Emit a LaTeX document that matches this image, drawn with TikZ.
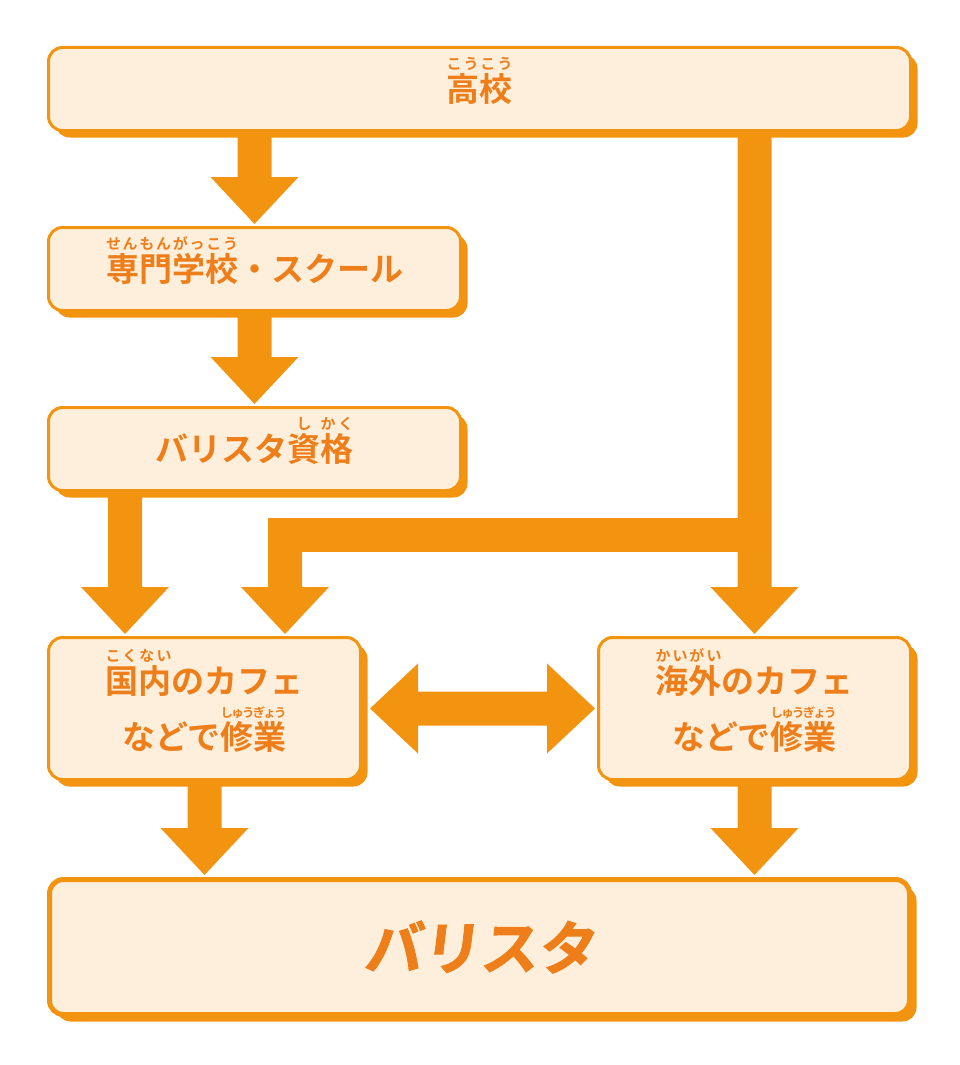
\documentclass[tikz,border=0pt]{standalone}
\usepackage{fontspec}
\usetikzlibrary{calc,shadows}
\newfontfamily\jpb{Noto Sans CJK JP Bold}
\newfontfamily\jpbig[FakeSlant=0.12,FakeBold=1.5]{Noto Sans CJK JP Bold}
\definecolor{orng}{HTML}{F39410}
\definecolor{cream}{HTML}{FDEFDB}
\definecolor{txt}{HTML}{EE7E1A}
\newsavebox\rbbase
\newcommand\rs{\hskip 0pt plus 1fil minus 1fil\relax}
\newcommand\ruby[3][15]{\sbox\rbbase{#2}\leavevmode\rlap{\raisebox{0.97em}[0pt][0pt]{\hbox to \wd\rbbase{\fontsize{#1}{#1}\selectfont #3}}}\usebox\rbbase}
\newcommand\fatdown[2]{\fill[orng] let \p1=(#1), \p2=(#2) in (\x1-17pt,\y1) -- (\x1-17pt,\y2+47pt) -- (\x1-44pt,\y2+47pt) -- (\x1,\y2) -- (\x1+44pt,\y2+47pt) -- (\x1+17pt,\y2+47pt) -- (\x1+17pt,\y1) -- cycle;}
\newcommand\fatboth[2]{\fill[orng] let \p1=(#1), \p2=(#2) in (\x1,\y1) -- (\x1+48pt,\y1+45pt) -- (\x1+48pt,\y1+17pt) -- (\x2-48pt,\y1+17pt) -- (\x2-48pt,\y1+45pt) -- (\x2,\y1) -- (\x2-48pt,\y1-45pt) -- (\x2-48pt,\y1-17pt) -- (\x1+48pt,\y1-17pt) -- (\x1+48pt,\y1-45pt) -- cycle;}
\begin{document}
\begin{tikzpicture}[x=1pt,y=-1pt,
  box/.style={draw=orng, line width=3pt, fill=cream, rounded corners=14pt, text=txt,
    font=\jpb\fontsize{33}{56}\selectfont, align=center, inner sep=0pt,
    drop shadow={shadow xshift=7pt, shadow yshift=-7pt, fill=orng, opacity=1}}]
\useasboundingbox (0,0) rectangle (960,1065);
\node[box, minimum width=862pt, minimum height=83pt] (koko) at (479.5,89)
  {\ruby{高校}{こ\rs う\rs こ\rs う}};
\node[box, minimum width=412pt, minimum height=83pt] (senmon) at (254.5,269)
  {\ruby{専門学校}{せ\rs ん\rs も\rs ん\rs が\rs っ\rs こ\rs う}・スクール};
\node[box, minimum width=412pt, minimum height=83pt] (shikaku) at (254.5,449)
  {バリスタ\ruby{資}{\hss し\hss}\ruby{格}{か\rs く}};
\node[box, minimum width=312pt, minimum height=142pt] (kokunai) at (204.5,708.5)
  {\ruby{国内}{こ\rs く\rs な\rs い}のカフェ\\
   などで\ruby[12.5]{修業}{し\rs ゅ\rs う\rs ぎ\rs ょ\rs う}};
\node[box, minimum width=312pt, minimum height=142pt] (kaigai) at (754.5,708.5)
  {\ruby{海外}{か\rs い\rs が\rs い}のカフェ\\
   などで\ruby[12.5]{修業}{し\rs ゅ\rs う\rs ぎ\rs ょ\rs う}};
\node[box, line width=5pt, minimum width=860pt, minimum height=135pt,
  font=\jpbig\fontsize{58}{58}\selectfont] (barista) at (479.5,947) {バリスタ};
% connectors
\coordinate (a3) at ($(shikaku.south west)+(78,0)$);
\coordinate (j) at (kaigai.north |- 0,535);
\coordinate (j2) at (285,535);
\fatdown{koko.south -| senmon.north}{$(senmon.north)+(0,-2)$}
\fatdown{senmon.south}{$(shikaku.north)+(0,-2)$}
\fatdown{a3}{$(a3 |- kokunai.north)+(0,-2)$}
\fatdown{koko.south -| kaigai.north}{$(kaigai.north)+(0,-2)$}
\fill[orng] ($(j2)+(-17,-17)$) rectangle ($(j)+(0,17)$);
\fatdown{$(j2)+(0,-17)$}{$(j2 |- kokunai.north)+(0,-2)$}
\fatdown{kokunai.south}{$(barista.north -| kokunai.south)+(0,-2)$}
\fatdown{kaigai.south}{$(barista.north -| kaigai.south)+(0,-2)$}
\fatboth{$(kokunai.east)+(8,0)$}{$(kaigai.west)+(-2,0)$}
\end{tikzpicture}
\end{document}
